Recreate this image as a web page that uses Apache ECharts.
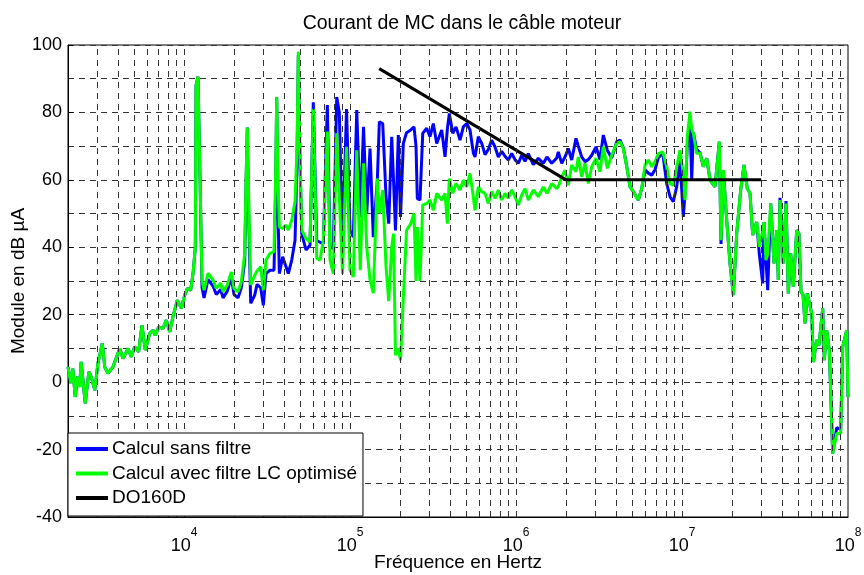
<!DOCTYPE html>
<html>
<head>
<meta charset="utf-8">
<script src="https://cdn.jsdelivr.net/npm/echarts@6/dist/echarts.min.js"></script>
<style>html,body{margin:0;padding:0;background:#fff}#c{width:864px;height:575px}</style>
</head>
<body>
<div id="c"></div>
<script>
// Frequencies (Hz)
const freq = [2000,2080,2140,2210,2280,2350,2400,2540,2670,2760,2900,3030,3220,3330,3480,3730,4100,4290,4600,4810,5040,5330,5580,5840,6210,6500,6710,7040,7470,7820,8200,8580,9110,9630,
10100,10470,10970,11330,11700,11810,12140,12490,12840,13200,13950,14950,15650,16640,17180,18230,19270,20010,21150,22140,23210,23630,24060,24640,25220,26660,27530,28970,30040,31190,32970,34850,35580,36170,36840,37510,39320,41160,42490,44550,46640,47940,48820,49840,51170,54320,57410,60100,63010,65960,69050,73020,75790,79340,83170,86210,90130,95260,
100000,104700,109800,115300,120600,126100,132000,138100,146100,150200,157400,164800,171100,178300,182800,187900,195400,201500,209500,219000,232100,243000,249800,254300,264000,274200,289700,303300,317500,332900,356800,373600,385700,396600,415700,435200,460000,481500,504700,528400,553200,566200,592800,621500,650600,681000,713800,747200,782200,820100,858300,898500,942200,986300,
1033000,1082000,1133000,1186000,1271000,1362000,1461000,1537000,1641000,1759000,1798000,1885000,1973000,2066000,2165000,2298000,2373000,2488000,2604000,2726000,2858000,3033000,3206000,3357000,3548000,3771000,4043000,4232000,4431000,4645000,4862000,5089000,5454000,5718000,5986000,6266000,6569000,6877000,7199000,7650000,8087000,8466000,8864000,9292000,9727000,
10180000,10430000,10760000,11170000,11440000,11700000,12260000,12840000,13440000,14090000,14750000,15800000,16780000,17180000,17740000,18590000,19460000,20370000,21360000,22570000,23630000,24740000,25680000,26660000,28180000,29220000,30630000,31190000,32060000,32830000,34220000,35820000,37190000,38020000,38930000,40760000,42320000,43690000,45160000,46820000,49090000,50680000,52110000,53570000,55080000,56860000,60430000,61800000,64770000,66880000,70400000,71980000,74420000,77150000,80870000,85510000,90360000,92910000,98220000,100000000];

// Calcul sans filtre (dB µA)
const sansFiltre = [4.5,-0.3,4,-4.4,1.6,-1.4,6,-6.3,3,1.6,-2.4,5.6,11.5,4.5,2.6,4.5,10,7,10,7.5,10.5,9,16.9,9.5,14.4,15.4,13.9,16.4,15.9,18.4,14.9,19.4,24.3,21.9,
25.8,27.8,27.3,32.2,40,88,90.6,60,28,25,30.5,28.5,26,27.5,25,27,31,26,25,28,36,58,75.5,45,23.4,25.8,29,28,22.8,32.2,33.2,33.2,55,84.6,50,32.2,37.2,34.2,32.2,36.2,42.1,65,97,68,44,39.2,40.6,83,42,41.5,41,82.2,40,39.7,84.6,80,40,81,
45,43,80.7,49,75.7,50,69.3,43,60,77.2,76.7,55,47,72.8,60,45,73.3,49,70.8,74,74.8,75.7,70,54.5,54,73.8,75.3,72.8,76.7,70.8,74.8,66.8,75,79.7,73.8,75.7,71.8,75.7,76.7,74.8,68,66.8,72.8,70.8,67.5,69,71.8,69.8,66.8,68.5,67,65.9,67.8,66,
64.9,67.3,65.5,67.8,64.5,66.4,64.9,66.8,64.9,66.5,68.3,64.9,66.8,69.3,65.9,72.3,70,66.8,65.4,66,67.3,69.8,66,73.3,68.8,66.5,71.3,71.8,69.5,64,58,56.5,54,57.4,63,62,61.4,63,66.5,68,58.9,55,53.5,58,66,
49,56,70,78,60,74,69,68,63.9,66.4,59.9,57.9,71.3,41,62.9,48,35.2,25.8,44.1,57,64.4,57.4,56,43.6,47.5,38,29.3,47.5,36.2,27.3,53,35.2,45.1,30.3,54.7,35.2,53.7,26.3,38.2,28.3,45.1,44,26.8,26,17.4,26.3,20.4,6,12.5,11,21.9,6.5,15.4,9.5,-21.2,-13.5,-14,10.5,15.4,-4.4];

// Calcul avec filtre LC optimisé (dB µA)
const avecFiltre = [4.5,-0.3,4,-4.4,1.6,-1.4,6,-6.3,3,1.6,-2.4,5.6,11.5,4.5,2.6,4.5,10,7,10,7.5,10.5,9,16.9,9.5,14.4,15.4,13.9,16.4,15.9,18.4,14.9,19.4,24.3,21.9,
25.8,27.8,27.3,32.2,40,88,90.6,60,30,27.3,32.3,30.3,27.8,29.4,26.8,28.8,32.7,27.8,26.8,29.8,38,60,75.5,50,28.8,31.7,33,34.2,27.3,36.2,38.2,38.7,60,84.6,60,46,45.6,46.6,45.1,48,53.5,70,98,70,45.1,42.6,41.6,81,36.7,36.2,42.1,74.3,36.2,32.2,73.8,55,32.2,69.8,
33.2,31.2,68.8,33.2,64.9,40.1,30.3,26.4,60.4,50.1,57,34.2,24,40,44,8,10,6.5,25,45,47,50,30,46,30,52.5,53,54,51,56,54,56,47,60.4,56,58.9,57,59.9,57.9,61.9,55,51,57.9,56.5,56,53,56.5,54.5,57,54,56,54.6,57,55,
52.5,55.5,57.4,54,57,55,57.9,56,58.9,57.4,58,60.9,62.9,58.4,64.4,62.4,66.8,60.9,64.9,58.9,63.9,66.4,62.4,69.8,63.4,67.3,70.8,71.3,69.3,63.9,57.9,56.5,54,57.4,64.4,65.9,63.9,65.4,67.8,68.3,63.9,58.9,58.4,63.9,68.8,
61.9,54,72.8,80.2,75,73.8,67.8,68,63.9,66.4,59.9,57.9,71.3,42.1,62.9,48,35.2,25.8,44.1,57,64.4,57.4,56,43.6,47.5,40.1,45,47.5,36.2,38,53,35.2,45.1,30.3,54,35.2,53,26.3,38.2,28.3,45.1,44,26.8,26,17.4,26.3,20.4,6,12.5,11,21.9,6.5,15.4,9.5,-21.2,-15.2,-15.2,10.5,15.4,-4.4];

// DO160D limit
const do160Freq = [150000, 2000000, 30000000];
const do160Val = [93, 60, 60];

// Log grid positions (mantissas per decade)
const gridMantissas = [1,2,3,4,5,6,7,8,9];
const gridDecades = [3,4,5,6,7];

const FONT = '"Liberation Sans", Arial, Helvetica, sans-serif';

const vLines = [];
gridDecades.forEach(d => gridMantissas.forEach(m => {
  const v = m * Math.pow(10, d);
  if (v > 2000 && v < 1e8) vLines.push({ xAxis: v });
}));

const chart = echarts.init(document.getElementById('c'), null, { renderer: 'canvas' });
const lineW = 3;
chart.setOption({
  animation: false,
  backgroundColor: '#fff',
  textStyle: { fontFamily: FONT, color: '#000' },
  title: {
    text: 'Courant de MC dans le câble moteur',
    left: 457, top: 9, textAlign: 'center',
    textStyle: { fontFamily: FONT, fontSize: 19.5, fontWeight: 'normal', color: '#000' }
  },
  grid: { left: 68, right: 16, top: 45, bottom: 58, show: true, borderColor: '#000', borderWidth: 1, backgroundColor: '#fff', containLabel: false, outerBoundsMode: 'none' },
  legend: {
    data: ['Calcul sans filtre', 'Calcul avec filtre LC optimisé', 'DO160D'],
    orient: 'vertical', left: 68, top: 433, z: 50,
    backgroundColor: '#fff', borderColor: '#000', borderWidth: 1, borderRadius: 0,
    padding: [6, 6, 8, 8], itemGap: 4.5, itemWidth: 32, itemHeight: 4,
    icon: 'rect',
    textStyle: { fontFamily: FONT, fontSize: 19, color: '#000', lineHeight: 20, padding: [0, 0, 0, -1] }
  },
  xAxis: {
    type: 'log', logBase: 10, min: 2000, max: 100000000,
    name: 'Fréquence en Hertz', nameLocation: 'middle', nameGap: 36, nameMoveOverlap: false,
    nameTextStyle: { fontFamily: FONT, fontSize: 19, color: '#000' },
    axisLine: { onZero: false, lineStyle: { color: '#000', width: 1 } },
    axisTick: { show: false },
    splitLine: { show: false },
    axisLabel: {
      margin: 10,
      formatter: function (v) {
        const e = Math.log10(v);
        if (Math.abs(e - Math.round(e)) < 1e-6) return '{b|10}{s|' + Math.round(e) + '}';
        return '';
      },
      rich: {
        b: { fontFamily: FONT, fontSize: 18, color: '#000', lineHeight: 28, verticalAlign: 'bottom' },
        s: { fontFamily: FONT, fontSize: 12, color: '#000', lineHeight: 28, verticalAlign: 'top' }
      }
    }
  },
  yAxis: {
    type: 'value', min: -40, max: 100, interval: 20,
    name: 'Module en dB µA', nameLocation: 'middle', nameGap: 40, nameMoveOverlap: false,
    nameTextStyle: { fontFamily: FONT, fontSize: 19, color: '#000' },
    axisLine: { show: true, lineStyle: { color: '#000', width: 1 } },
    axisTick: { show: true, inside: true, length: 5, lineStyle: { color: '#000' } },
    axisLabel: { fontFamily: FONT, fontSize: 18, color: '#000', margin: 6 },
    splitLine: { show: true, lineStyle: { color: '#333', width: 1, type: [6, 5] } },
    minorTick: { show: false, splitNumber: 2 },
    minorSplitLine: { show: true, lineStyle: { color: '#333', width: 1, type: [6, 5] } }
  },
  series: [
    {
      name: 'grid', type: 'line', data: [], z: 1, silent: true,
      markLine: {
        silent: true, symbol: ['none', 'none'], label: { show: false },
        lineStyle: { color: '#333', width: 1, type: [6, 5] },
        emphasis: { disabled: true },
        data: vLines
      }
    },
    {
      name: 'Calcul sans filtre', type: 'line', showSymbol: false, symbol: 'none', z: 2,
      lineStyle: { color: '#0000ff', width: lineW }, itemStyle: { color: '#0000ff' },
      data: freq.map((f, i) => [f, sansFiltre[i]])
    },
    {
      name: 'Calcul avec filtre LC optimisé', type: 'line', showSymbol: false, symbol: 'none', z: 3,
      lineStyle: { color: '#00ff00', width: lineW }, itemStyle: { color: '#00ff00' },
      data: freq.map((f, i) => [f, avecFiltre[i]])
    },
    {
      name: 'DO160D', type: 'line', showSymbol: false, symbol: 'none', z: 4,
      lineStyle: { color: '#000', width: lineW }, itemStyle: { color: '#000' },
      data: do160Freq.map((f, i) => [f, do160Val[i]])
    }
  ]
});
</script>
</body>
</html>
